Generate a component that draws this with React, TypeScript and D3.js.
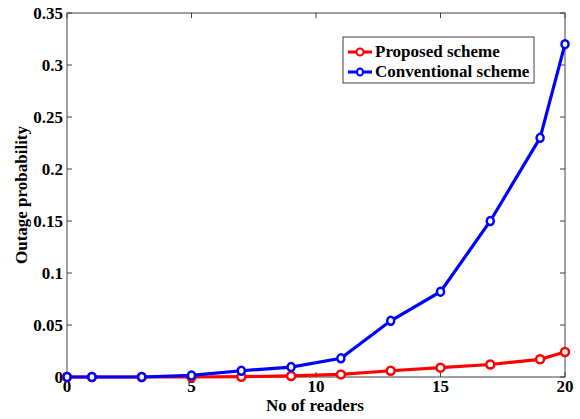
import React from "react";
import * as d3 from "d3";

const readers = [0, 1, 3, 5, 7, 9, 11, 13, 15, 17, 19, 20];
const proposed = [0, 0, 0, 0, 0.0003, 0.001, 0.0025, 0.006, 0.009, 0.012, 0.017, 0.024];
const conventional = [0, 0, 0, 0.0015, 0.006, 0.0095, 0.018, 0.054, 0.082, 0.15, 0.23, 0.32];
const xTicks = [0, 5, 10, 15, 20];
const yTicks = [0, 0.05, 0.1, 0.15, 0.2, 0.25, 0.3, 0.35];
const seriesNames = ["Proposed scheme", "Conventional scheme"];
const seriesColors = ["#ff0000", "#0000ff"];

export default function App() {
  const W = 580, H = 419;
  const left = 67, right = 565, top = 13, bottom = 377;
  const x = d3.scaleLinear().domain([0, 20]).range([left, right]);
  const y = d3.scaleLinear().domain([0, 0.35]).range([bottom, top]);
  const line = d3.line<number>().x((_, i) => x(readers[i])).y((d) => y(d));
  const font = "'Liberation Serif', 'Times New Roman', serif";
  const fmt = (v: number) => (v === 0 ? "0" : String(+v.toFixed(2)));
  const series = [proposed, conventional];
  const axisColor = "#404040";
  const fs = 17;
  return (
    <svg width={W} height={H} style={{ position: "absolute", left: 0, top: 0, background: "#fff" }}>
      <rect x={0} y={0} width={W} height={H} fill="#fff" />
      <rect x={left} y={top} width={right - left} height={bottom - top} fill="#fff" stroke={axisColor} strokeWidth={1} />
      {xTicks.map((t) => (
        <g key={"x" + t}>
          <line x1={x(t)} x2={x(t)} y1={bottom} y2={bottom - 5} stroke={axisColor} />
          <line x1={x(t)} x2={x(t)} y1={top} y2={top + 5} stroke={axisColor} />
          <text x={x(t)} y={bottom + 15} textAnchor="middle" fontFamily={font} fontWeight="bold" fontSize={fs}>{t}</text>
        </g>
      ))}
      {yTicks.map((t) => (
        <g key={"y" + t}>
          <line x1={left} x2={left + 5} y1={y(t)} y2={y(t)} stroke={axisColor} />
          <line x1={right} x2={right - 5} y1={y(t)} y2={y(t)} stroke={axisColor} />
          <text x={left - 4} y={y(t) + 6} textAnchor="end" fontFamily={font} fontWeight="bold" fontSize={fs}>{fmt(t)}</text>
        </g>
      ))}
      <text x={315} y={411} textAnchor="middle" fontFamily={font} fontWeight="bold" fontSize={fs}>No of readers</text>
      <text transform={`translate(27,195) rotate(-90)`} textAnchor="middle" fontFamily={font} fontWeight="bold" fontSize={fs}>Outage probability</text>
      {series.map((s, si) => (
        <g key={"s" + si}>
          <path d={line(s) || ""} fill="none" stroke={seriesColors[si]} strokeWidth={3.2} />
          {s.map((v, i) => (
            <ellipse key={i} cx={x(readers[i])} cy={y(v)} rx={si === 1 ? 3.5 : 4} ry={4} fill="#fff" stroke={seriesColors[si]} strokeWidth={2.5} />
          ))}
        </g>
      ))}
      <rect x={343} y={37} width={191} height={46} fill="#fff" stroke={axisColor} strokeWidth={1} />
      {seriesNames.map((n, i) => (
        <g key={"l" + i}>
          <line x1={348} x2={372} y1={52 + i * 20} y2={52 + i * 20} stroke={seriesColors[i]} strokeWidth={3} />
          <ellipse cx={360} cy={52 + i * 20} rx={i === 1 ? 3 : 3.5} ry={3.5} fill="#fff" stroke={seriesColors[i]} strokeWidth={2} />
          <text x={375} y={57 + i * 20} fontFamily={font} fontWeight="bold" fontSize={fs}>{n}</text>
        </g>
      ))}
    </svg>
  );
}
